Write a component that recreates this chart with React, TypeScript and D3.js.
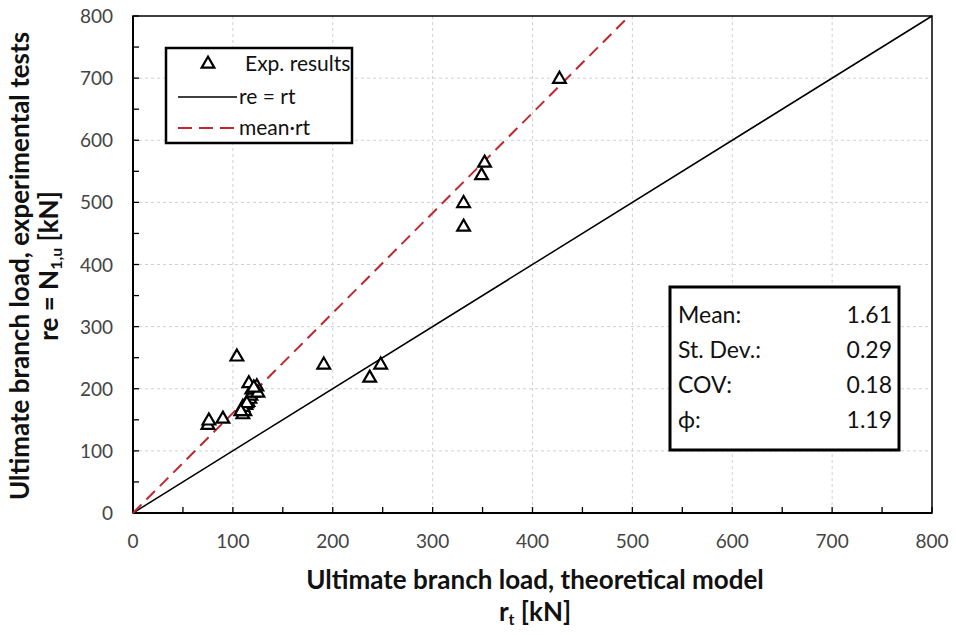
import React from "react";
import * as d3 from "d3";

const expX = [427, 352, 349, 331, 331, 248, 237, 191, 104, 75, 76, 90,
  110, 112, 113, 115, 117, 118, 120, 122, 124, 119, 116, 125, 110, 114, 121, 108];
const expY = [700, 565, 545, 500, 462, 240, 219, 240, 253, 143, 150, 153,
  160, 165, 175, 180, 185, 190, 195, 200, 205, 200, 210, 195, 172, 178, 203, 165];
const meanRatio = 1.61;
const ticks = [0, 100, 200, 300, 400, 500, 600, 700, 800];
const minorTicks = [0, 50, 100, 150, 200, 250, 300, 350, 400, 450, 500, 550, 600, 650, 700, 750, 800];
const statLabels = ["Mean:", "St. Dev.:", "COV:", "\u03d5:"];
const statValues = ["1.61", "0.29", "0.18", "1.19"];

export default function App() {
  const W = 956, H = 635;
  const L = 133, R = 932, T = 16, B = 513;
  const x = d3.scaleLinear().domain([0, 800]).range([L, R]);
  const y = d3.scaleLinear().domain([0, 800]).range([B, T]);
  const font = "Lato, 'Open Sans', sans-serif";
  const tri = d3.symbol().type(d3.symbolTriangle).size(70)();
  const line = d3.line<[number, number]>().x(d => x(d[0])).y(d => y(d[1]));
  const meanEnd = 800 / meanRatio;
  const red = "#c0272d";
  return (
    <svg width={W} height={H} style={{ position: "absolute", left: 0, top: 0, background: "#fff" }} fontFamily={font}>
      <rect x={0} y={0} width={W} height={H} fill="#fff" />
      {ticks.slice(1, -1).map(t => (
        <g key={"g" + t}>
          <line x1={x(t)} x2={x(t)} y1={T} y2={B} stroke="#d0d0d0" strokeDasharray="3,3" strokeWidth={1} />
          <line x1={L} x2={R} y1={y(t)} y2={y(t)} stroke="#d0d0d0" strokeDasharray="3,3" strokeWidth={1} />
        </g>
      ))}
      <rect x={L} y={T} width={R - L} height={B - T} fill="none" stroke="#000" strokeWidth={1.5} />
      <line x1={L} x2={L} y1={T} y2={B} stroke="#000" strokeWidth={2} />
      <line x1={L} x2={R} y1={B} y2={B} stroke="#000" strokeWidth={2} />
      {minorTicks.map(t => (
        <g key={"t" + t}>
          <line x1={x(t)} x2={x(t)} y1={B} y2={B - 6} stroke="#000" strokeWidth={1.3} />
          <line x1={L} x2={L + 6} y1={y(t)} y2={y(t)} stroke="#000" strokeWidth={1.3} />
        </g>
      ))}
      {ticks.map(t => (
        <g key={"l" + t} fill="#444" fontSize={19}>
          <text x={x(t)} y={B + 35} textAnchor="middle">{t}</text>
          <text x={L - 20} y={y(t) + 7} textAnchor="end">{t}</text>
        </g>
      ))}
      <path d={line([[0, 0], [800, 800]]) || ""} stroke="#000" strokeWidth={1.5} fill="none" />
      <path d={line([[0, 0], [meanEnd, 800]]) || ""} stroke={red} strokeWidth={2} strokeDasharray="12,7" fill="none" />
      {expX.map((v, i) => (
        <path key={"p" + i} d={tri || ""} transform={`translate(${x(v)},${y(expY[i]) + 1})`} fill="#fff" stroke="#000" strokeWidth={2.2} />
      ))}
      {/* legend */}
      <rect x={166} y={48} width={186} height={95} fill="#fff" stroke="#000" strokeWidth={2.5} />
      <path d={tri || ""} transform={`translate(208,64)`} fill="#fff" stroke="#000" strokeWidth={2.2} />
      <text x={245} y={71} fontSize={21} fill="#111">Exp. results</text>
      <line x1={178} x2={237} y1={97} y2={97} stroke="#000" strokeWidth={1.5} />
      <text x={239} y={104} fontSize={21} fill="#111">re = rt</text>
      <line x1={178} x2={237} y1={128} y2={128} stroke={red} strokeWidth={2} strokeDasharray="14,7" />
      <text x={239} y={135} fontSize={21} fill="#111">mean·rt</text>
      {/* stats */}
      <rect x={670} y={287} width={229} height={163} fill="#fff" stroke="#000" strokeWidth={3} />
      {statLabels.map((s, i) => (
        <g key={"s" + i} fontSize={23} fill="#111">
          <text x={678} y={323 + i * 35}>{s}</text>
          <text x={892} y={323 + i * 35} textAnchor="end">{statValues[i]}</text>
        </g>
      ))}
      {/* axis titles */}
      <text x={535} y={589} textAnchor="middle" fontSize={26} fontWeight="bold" fill="#111">Ultimate branch load, theoretical model</text>
      <text x={535} y={621} textAnchor="middle" fontSize={26} fontWeight="bold" fill="#111">r<tspan fontSize={16} dy={4}>t</tspan><tspan dy={-4}> [kN]</tspan></text>
      <text transform="translate(29,266) rotate(-90)" textAnchor="middle" fontSize={26} fontWeight="bold" fill="#111">Ultimate branch load, experimental tests</text>
      <text transform="translate(58,266) rotate(-90)" textAnchor="middle" fontSize={26} fontWeight="bold" fill="#111">re = N<tspan fontSize={16} dy={4}>1,u</tspan><tspan dy={-4}> [kN]</tspan></text>
    </svg>
  );
}
